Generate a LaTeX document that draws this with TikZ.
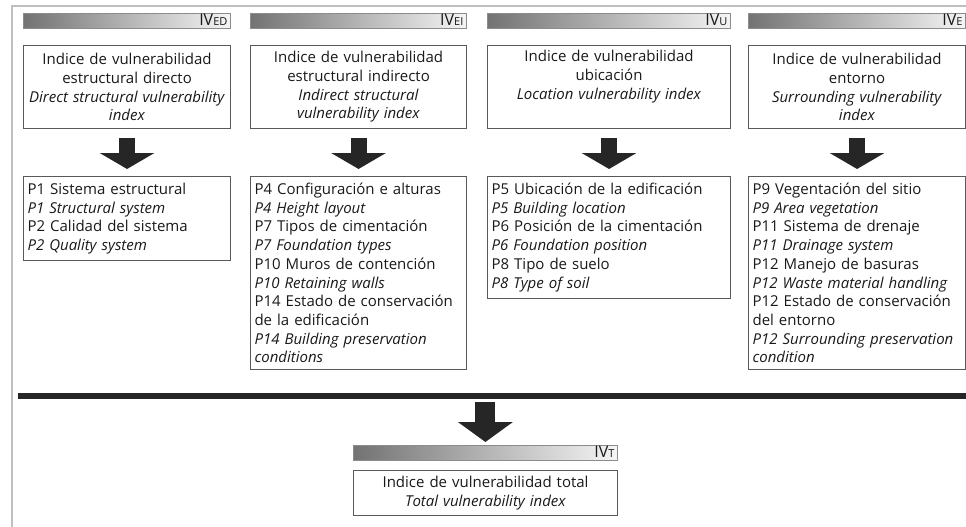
\documentclass[tikz,border=0pt]{standalone}
\usepackage{fontspec}
\setmainfont{Open Sans}
\usetikzlibrary{arrows.meta,positioning}

\newcommand\ivsub[1]{{\fontsize{11}{11}\selectfont #1}}

\tikzset{
  txt/.style={font={\fontsize{15pt}{18.7pt}\selectfont}, text=black!90},
  bar/.style={draw=black!45, line width=0.8pt, left color=black!55, right color=black!4, anchor=north west,
    minimum height=15pt, inner xsep=3pt, inner ysep=0pt, align=right, text=black!90,
    text height=11.5pt, text depth=1.5pt, font={\fontsize{16pt}{16pt}\selectfont}},
  tbox/.style={txt, draw=black!65, line width=1.1pt, anchor=north west, align=center, minimum height=83pt, inner xsep=4pt},
  pbox/.style={txt, draw=black!65, line width=1.1pt, anchor=north west, align=left, inner xsep=4pt, inner ysep=6.5pt},
  bigarrow/.style={black!85, line width=16pt, -{Triangle[width=54pt,length=16pt]}}
}

\begin{document}
\begin{tikzpicture}[x=1pt,y=-1pt]
\useasboundingbox (0,0) rectangle (966,527);
\draw[black!25, line width=2pt] (12,527) -- (12,6) -- (966,6);

\node[bar, text width=201pt] (b1) at (23,13) {IV\ivsub{ED}};
\node[bar, text width=210pt] (b2) at (250,13) {IV\ivsub{EI}};
\node[bar, text width=237pt] (b3) at (487,13) {IV\ivsub{U}};
\node[bar, text width=211pt] (b4) at (748,13) {IV\ivsub{E}};

\node[tbox, text width=199pt] (t1) at (23,45) {Indice de vulnerabilidad\\ estructural directo\\ \textit{Direct structural vulnerability}\\ \textit{index}};
\node[tbox, text width=208pt] (t2) at (250,45) {Indice de vulnerabilidad\\ estructural indirecto\\ \textit{Indirect structural}\\ \textit{vulnerability index}};
\node[tbox, text width=235pt] (t3) at (487,45) {Indice de vulnerabilidad\\ ubicación\\ \textit{Location vulnerability index}\\ \strut};
\node[tbox, text width=209pt] (t4) at (748,45) {Indice de vulnerabilidad\\ entorno\\ \textit{Surrounding vulnerability}\\ \textit{index}};

\node[pbox, text width=199pt] (p1) at (23,176) {P1 Sistema estructural\\ \textit{P1 Structural system}\\ P2 Calidad del sistema\\ \textit{P2 Quality system}};
\node[pbox, text width=208pt] (p2) at (250,176) {P4 Configuración e alturas\\ \textit{P4 Height layout}\\ P7 Tipos de cimentación\\ \textit{P7 Foundation types}\\ P10 Muros de contención\\ \textit{P10 Retaining walls}\\ P14 Estado de conservación\\ de la edificación\\ \textit{P14 Building preservation}\\ \textit{conditions}};
\node[pbox, text width=235pt] (p3) at (487,176) {P5 Ubicación de la edificación\\ \textit{P5 Building location}\\ P6 Posición de la cimentación\\ \textit{P6 Foundation position}\\ P8 Tipo de suelo\\ \textit{P8 Type of soil}};
\node[pbox, text width=209pt] (p4) at (748,176) {P9 Vegentación del sitio\\ \textit{P9 Area vegetation}\\ P11 Sistema de drenaje\\ \textit{P11 Drainage system}\\ P12 Manejo de basuras\\ \textit{P12 Waste material handling}\\ P12 Estado de conservación\\ del entorno\\ \textit{P12 Surrounding preservation}\\ \textit{condition}};

\foreach \i in {1,...,4} {\draw[bigarrow, shorten <=9pt, shorten >=7pt] (t\i.south) -- (t\i.south |- p\i.north);}

\draw[black!85, line width=6pt] (18,396) -- (966,396);

\node[bar, text width=258pt] (bT) at (353,445) {IV\ivsub{T}};
\node[tbox, text width=256pt, minimum height=45pt] (tT) at (353,470) {Indice de vulnerabilidad total\\ \textit{Total vulnerability index}};

\coordinate (join) at (485,402);
\draw[bigarrow, line width=20pt, -{Triangle[width=54pt,length=20pt]}, shorten >=3pt] (bT.north |- join) -- (bT.north);
\end{tikzpicture}
\end{document}
